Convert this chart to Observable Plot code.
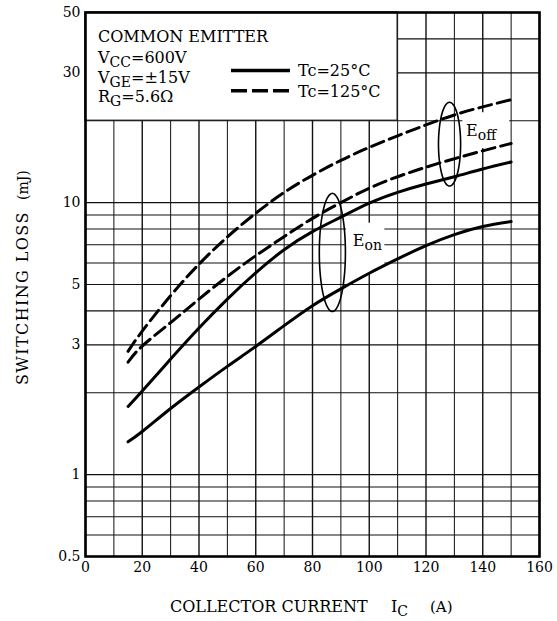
<!DOCTYPE html>
<html><head><meta charset="utf-8">
<script src="https://cdn.jsdelivr.net/npm/d3@7"></script>
<script src="https://cdn.jsdelivr.net/npm/@observablehq/plot@0.6"></script>
<style>
body{margin:0;background:#fff;}
#chart svg{display:block;}
</style></head><body><div id="chart"></div>
<script>
// ---- data ----
const current = [15,20,30,40,50,60,70,80,90,100,110,120,130,140,150];
const eoff125 = [2.84,3.37,4.55,5.94,7.48,9.14,10.9,12.6,14.3,15.96,17.6,19.3,21.0,22.5,23.9];
const eon125  = [2.59,2.97,3.62,4.42,5.35,6.38,7.5,8.75,10.0,11.3,12.45,13.5,14.5,15.5,16.5];
const eoff25  = [1.78,2.03,2.66,3.46,4.42,5.52,6.71,7.82,8.84,9.95,10.9,11.7,12.45,13.3,14.1];
const eon25   = [1.32,1.44,1.75,2.10,2.5,2.96,3.53,4.18,4.82,5.5,6.21,6.95,7.63,8.17,8.52];

const xTicks = [0,20,40,60,80,100,120,140,160];
const xGrid  = [0,10,20,30,40,50,60,70,80,90,100,110,120,130,140,150,160];
const yTicks = [0.5,1,3,5,10,30,50];
const yGrid  = [0.5,0.6,0.7,0.8,0.9,1,2,3,4,5,6,7,8,9,10,20,30,40,50];

const legendBox = [{x1:0, x2:110, y1:20, y2:50}];
const labelBoxes = [{x1:92, x2:105.5, y1:5.5, y2:8.4}, {x1:133, x2:149.5, y1:15.8, y2:21.4}];
const ellipses = [{cx:87.0, cy:6.56, rx:4.6, ry:0.217}, {cx:128.3, cy:16.4, rx:3.9, ry:0.154}];

const solidRows = [
  ...current.map((c,i)=>({ic:c, e:eoff25[i], s:"Eoff 25"})),
  ...current.map((c,i)=>({ic:c, e:eon25[i], s:"Eon 25"}))
];
const dashRows = [
  ...current.map((c,i)=>({ic:c, e:eoff125[i], s:"Eoff 125"})),
  ...current.map((c,i)=>({ic:c, e:eon125[i], s:"Eon 125"}))
];
const ellipseRows = ellipses.flatMap((el,k)=>d3.range(0, 73).map(j=>{
  const t = j/72*2*Math.PI;
  return {k, x: el.cx + el.rx*Math.cos(t), y: el.cy*Math.pow(10, el.ry*Math.sin(t))};
}));

const FONT = "DejaVu Serif";
const chart = Plot.plot({
  width: 557, height: 621,
  marginLeft: 85, marginRight: 18, marginTop: 12, marginBottom: 65,
  style: {fontFamily: FONT, fontSize: "14px", color: "#000", background: "#fff", overflow: "visible"},
  x: {domain: [0,160], ticks: xTicks, tickSize: 0, tickPadding: 6, label: null, tickFormat: d => String(d)},
  y: {type: "log", domain: [0.5,50], ticks: yTicks, tickSize: 0, tickPadding: 5, label: null, tickFormat: d => String(d)},
  marks: [
    Plot.ruleX(xGrid, {x: d => d, stroke: "#111", strokeWidth: d => d % 20 === 0 ? 1.4 : 1.0}),
    Plot.ruleY(yGrid, {y: d => d, stroke: "#111", strokeWidth: 1.1}),
    Plot.rect(legendBox, {x1:"x1", x2:"x2", y1:"y1", y2:"y2", fill:"white", stroke:"#111", strokeWidth:1.2}),
    Plot.rect(labelBoxes, {x1:"x1", x2:"x2", y1:"y1", y2:"y2", fill:"white"}),
    Plot.line(solidRows, {x:"ic", y:"e", z:"s", stroke:"#000", strokeWidth:3, curve:"natural"}),
    Plot.line(dashRows, {x:"ic", y:"e", z:"s", stroke:"#000", strokeWidth:3, strokeDasharray:"13,6", curve:"natural"}),
    Plot.line(ellipseRows, {x:"x", y:"y", z:"k", stroke:"#000", strokeWidth:1.6, curve:"catmull-rom"}),
    Plot.frame({stroke:"#000", strokeWidth:2.6})
  ]
});
document.getElementById("chart").appendChild(chart);

// ---- annotations & titles ----
const svg = d3.select(chart);
const sx = chart.scale("x"), sy = chart.scale("y");
function addText(x, y, parts, size=16, extra={}) {
  const t = svg.append("text").attr("x", x).attr("y", y)
    .attr("font-family", FONT).attr("font-size", size).attr("fill", "#000")
    .attr("text-anchor", "start");
  for (const k in extra) t.attr(k, extra[k]);
  let shift = 0;
  for (const p of parts) {
    const ts = t.append("tspan").text(p.t);
    const target = p.sub ? 4 : 0;
    ts.attr("dy", target - shift);
    shift = target;
    if (p.sub) ts.attr("font-size", size - 2);
  }
  return t;
}
const px0 = sx.apply(0), py0 = sy.apply(50);
// legend box texts
addText(px0 + 13, py0 + 30, [{t:"COMMON EMITTER"}]);
addText(px0 + 13, py0 + 51, [{t:"V"},{t:"CC",sub:true},{t:"=600V"}]);
addText(px0 + 13, py0 + 71, [{t:"V"},{t:"GE",sub:true},{t:"=\u00B115V"}]);
addText(px0 + 13, py0 + 90, [{t:"R"},{t:"G",sub:true},{t:"=5.6\u03A9"}]);
// line legend
svg.append("line").attr("x1", px0+146).attr("x2", px0+205).attr("y1", py0+58.5).attr("y2", py0+58.5)
  .attr("stroke","#000").attr("stroke-width",3.5);
svg.append("line").attr("x1", px0+146).attr("x2", px0+205).attr("y1", py0+78.7).attr("y2", py0+78.7)
  .attr("stroke","#000").attr("stroke-width",3.5).attr("stroke-dasharray","16,5");
addText(px0 + 213, py0 + 64, [{t:"Tc=25\u00B0C"}]);
addText(px0 + 213, py0 + 84.7, [{t:"Tc=125\u00B0C"}]);
// curve group labels
addText(sx.apply(94.4), sy.apply(6.9), [{t:"E"},{t:"on",sub:true}]);
addText(sx.apply(134.3), sy.apply(17.5), [{t:"E"},{t:"off",sub:true}]);
// axis titles
addText(170, 612, [{t:"COLLECTOR CURRENT"}]);
addText(391, 612, [{t:"I"},{t:"C",sub:true}]);
addText(430, 612, [{t:"(A)"}], 15);
addText(0, 0, [{t:"SWITCHING LOSS"}], 16, {transform:"translate(28,385) rotate(-90)", "letter-spacing":"1.4"});
addText(0, 0, [{t:"(mJ)"}], 14, {transform:"translate(28,200) rotate(-90)"});
</script></body></html>
